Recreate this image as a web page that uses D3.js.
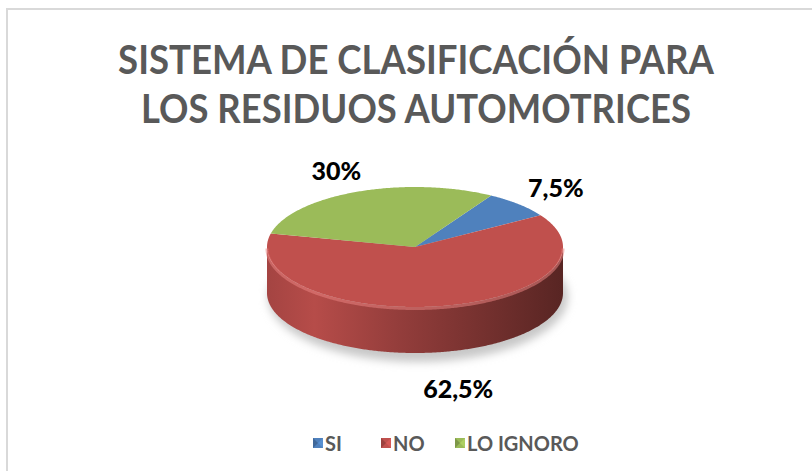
<!DOCTYPE html>
<html>
<head>
<meta charset="utf-8">
<script src="https://cdn.jsdelivr.net/npm/d3@7"></script>
<style>
  body { margin: 0; background: #fff; }
  svg { display: block; }
  text { font-family: Lato, "Open Sans", sans-serif; font-weight: bold; }
</style>
</head>
<body>
<svg id="chart"></svg>
<script>
// datos del grafico
var categories = ['SI', 'NO', 'LO IGNORO'];
var values = [7.5, 62.5, 30];
var labels = ['7,5%', '62,5%', '30%'];
var colors = ['#4f81bd', '#c0504d', '#9bbb59'];
var titleLines = ['SISTEMA DE CLASIFICACIÓN PARA', 'LOS RESIDUOS AUTOMOTRICES'];

var draw = function(){
    const width = 812, height = 471;
    const cx = 415, cy = 247, rx = 148, ry = 60, depth = 46;
    const rot = 31 * Math.PI / 180;

    var svg = d3.select('svg#chart')
    .attr('width', width)
    .attr('height', height);

    var defs = svg.append('defs');

    // marco
    svg.append('line').attr('x1', 6).attr('x2', width).attr('y1', 9).attr('y2', 9)
    .style('stroke', '#d9d9d9').style('stroke-width', 2);
    svg.append('line').attr('x1', 7).attr('x2', 7).attr('y1', 9).attr('y2', height)
    .style('stroke', '#d9d9d9').style('stroke-width', 2);

    // titulo (escalado en x para parecerse a Calibri)
    var titleWidths = [596, 550];
    titleLines.forEach(function(t, i){
        let g = svg.append('g');
        let txt = g.append('text')
        .attr('x', 0)
        .attr('y', 0)
        .attr('text-anchor', 'middle')
        .style('fill', '#595959')
        .style('font-size', '41px')
        .text(t);
        let k = titleWidths[i] / txt.node().getComputedTextLength();
        g.attr('transform', 'translate(416,' + (74 + i * 49) + ') scale(' + k + ',1)');
    });

    // pie 3d
    var pie = d3.pie().sort(null).value(d => d).startAngle(rot).endAngle(rot + 2 * Math.PI);
    var arcs = pie(values);

    var px = a => cx + rx * Math.sin(a);
    var py = a => cy - ry * Math.cos(a);

    var line = d3.line();

    // sombra
    var blur = defs.append('filter').attr('id', 'blur').attr('x', '-20%').attr('y', '-50%')
    .attr('width', '140%').attr('height', '200%');
    blur.append('feGaussianBlur').attr('stdDeviation', 4);
    svg.append('ellipse')
    .attr('cx', cx + 3).attr('cy', cy + depth + 4)
    .attr('rx', rx + 2).attr('ry', ry + 5)
    .style('fill', '#c8c8c8')
    .attr('filter', 'url(#blur)');

    // paredes laterales
    arcs.forEach(function(d, i){
        [0, 2 * Math.PI].forEach(function(off){
            let s = Math.max(d.startAngle - off, Math.PI / 2);
            let e = Math.min(d.endAngle - off, 3 * Math.PI / 2);
            if (e <= s) return;
            let c = d3.color(colors[i]);
            let grad = defs.append('linearGradient')
            .attr('id', 'side' + i + '_' + off)
            .attr('gradientUnits', 'userSpaceOnUse')
            .attr('x1', cx - rx).attr('x2', cx + rx).attr('y1', 0).attr('y2', 0);
            grad.append('stop').attr('offset', '0%').attr('stop-color', c.darker(0.45));
            grad.append('stop').attr('offset', '16%').attr('stop-color', c.darker(0.15));
            grad.append('stop').attr('offset', '45%').attr('stop-color', c.darker(0.75));
            grad.append('stop').attr('offset', '100%').attr('stop-color', c.darker(2.2));
            let top = d3.range(s, e, 0.01).concat([e]).map(a => [px(a), py(a)]);
            let bot = top.slice().reverse().map(p => [p[0], p[1] + depth]);
            svg.append('path')
            .attr('d', line(top.concat(bot)) + 'Z')
            .style('fill', 'url(#side' + i + '_' + off + ')');
        });
    });

    // cara superior
    arcs.forEach(function(d, i){
        let pts = [[cx, cy]].concat(d3.range(d.startAngle, d.endAngle, 0.01).concat([d.endAngle]).map(a => [px(a), py(a)]));
        svg.append('path')
        .attr('d', line(pts) + 'Z')
        .style('fill', colors[i]);
    });

    // borde brillante del frente
    var rim = d3.range(Math.PI / 2, 3 * Math.PI / 2, 0.01).map(a => [px(a), py(a) + 1.5]);
    svg.append('path')
    .attr('d', line(rim))
    .style('fill', 'none')
    .style('stroke', '#e8827f')
    .style('stroke-opacity', 0.55)
    .style('stroke-width', 3);

    // etiquetas
    arcs.forEach(function(d, i){
        let m = (d.startAngle + d.endAngle) / 2;
        let cos = Math.cos(m), sin = Math.sin(m);
        let lx = cx + (rx + 53) * sin + (cos < 0 ? 10 : 0);
        let ly = cy - (ry + 24) * cos + (cos < 0 ? depth + 12 : 0);
        svg.append('text')
        .attr('x', lx)
        .attr('y', ly)
        .attr('text-anchor', 'middle')
        .attr('dominant-baseline', 'central')
        .style('font-size', '25px')
        .style('font-weight', 900)
        .style('fill', '#000')
        .text(labels[i]);
    });

    // leyenda
    var legend = svg.append('g').attr('transform', 'translate(313,443)');
    var xs = [0, 68, 142];
    categories.forEach(function(c, i){
        let g = legend.append('g').attr('transform', 'translate(' + xs[i] + ',0)');
        let col = d3.color(colors[i]);
        g.append('rect').attr('x', 0).attr('y', -5).attr('width', 10).attr('height', 10)
        .style('fill', colors[i]);
        g.append('path').attr('d', 'M0,-5L5,0L0,5Z').style('fill', col.darker(0.6));
        g.append('path').attr('d', 'M10,-5L5,0L10,5Z').style('fill', col.brighter(0.3));
        g.append('text')
        .attr('x', 12)
        .attr('y', 0)
        .attr('dominant-baseline', 'central')
        .style('font-size', '20px')
        .style('fill', '#595959')
        .text(c);
    });
}

draw();
</script>
</body>
</html>
